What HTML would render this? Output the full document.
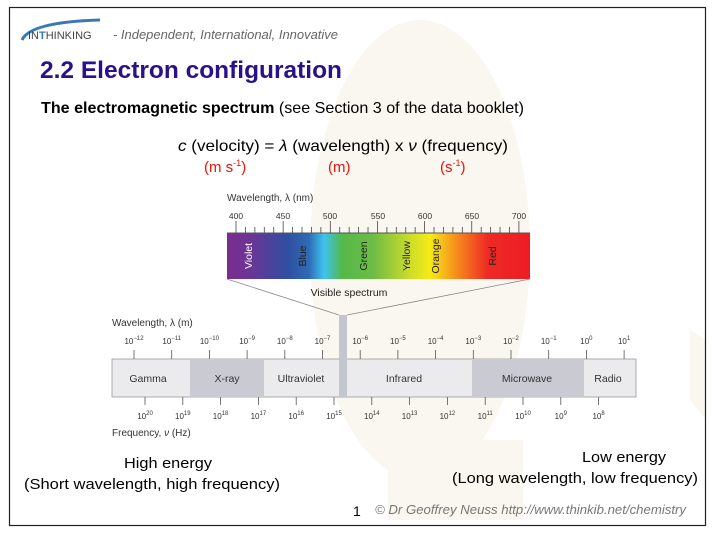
<!DOCTYPE html>
<html><head><meta charset="utf-8"><style>
html,body{margin:0;padding:0;background:#fff;}
body{width:716px;height:536px;position:relative;overflow:hidden;font-family:"Liberation Sans",sans-serif;}
svg{position:absolute;left:0;top:0;}
</style></head><body>
<svg width="716" height="536" viewBox="0 0 716 536" font-family="Liberation Sans, sans-serif">
<defs>
<linearGradient id="vis" x1="227" x2="530" y1="0" y2="0" gradientUnits="userSpaceOnUse">
<stop offset="0" stop-color="#7a2d8f"/>
<stop offset="0.08" stop-color="#6a3596"/>
<stop offset="0.2" stop-color="#2f4fa1"/>
<stop offset="0.27" stop-color="#2f6bb5"/>
<stop offset="0.32" stop-color="#3ec3ef"/>
<stop offset="0.38" stop-color="#55b84a"/>
<stop offset="0.48" stop-color="#6dbb45"/>
<stop offset="0.6" stop-color="#c9dc2c"/>
<stop offset="0.67" stop-color="#f6eb16"/>
<stop offset="0.75" stop-color="#f7941d"/>
<stop offset="0.86" stop-color="#ee2a24"/>
<stop offset="1" stop-color="#ed1c24"/>
</linearGradient>
</defs>
<ellipse cx="420" cy="250" rx="110" ry="230" fill="#faf7f0"/>
<rect x="388" y="440" width="135" height="80" fill="#faf7f0"/>
<polygon points="690,330 706,340 706,420 690,400" fill="#faf7f0"/>
<rect x="9.5" y="7.5" width="696" height="518" fill="none" stroke="#222" stroke-width="1.2"/>
<path d="M22,40 Q30,22 100,20" fill="none" stroke="#3a78b5" stroke-width="3"/>
<text x="28" y="39" font-size="11" fill="#444">IN<tspan font-weight="bold" fill="#3a78b5">T</tspan>HINKING</text>
<text x="113" y="39" font-size="13" font-style="italic" fill="#666" textLength="225" lengthAdjust="spacingAndGlyphs">- Independent, International, Innovative</text>
<text x="40" y="78" font-size="24" font-weight="bold" fill="#2a118a" textLength="302" lengthAdjust="spacingAndGlyphs">2.2 Electron configuration</text>
<text x="41" y="113" font-size="16" fill="#000" textLength="483" lengthAdjust="spacingAndGlyphs"><tspan font-weight="bold">The electromagnetic spectrum</tspan> (see Section 3 of the data booklet)</text>
<text x="178" y="151" font-size="16" fill="#000" textLength="330" lengthAdjust="spacingAndGlyphs"><tspan font-style="italic">c</tspan> (velocity) =  <tspan font-style="italic">λ</tspan> (wavelength) x  <tspan font-style="italic">ν</tspan> (frequency)</text>
<text x="204" y="172" font-size="15" fill="#e8120c">(m s<tspan font-size="9" dy="-6">-1</tspan><tspan dy="6">)</tspan></text>
<text x="328" y="172" font-size="15" fill="#e8120c">(m)</text>
<text x="440" y="172" font-size="15" fill="#e8120c">(s<tspan font-size="9" dy="-6">-1</tspan><tspan dy="6">)</tspan></text>

<text x="227" y="201" font-size="10" fill="#333">Wavelength, λ (nm)</text>
<g font-size="8.5" fill="#333" text-anchor="middle">
<text x="236" y="219">400</text><text x="283" y="219">450</text><text x="330" y="219">500</text><text x="378" y="219">550</text><text x="425" y="219">600</text><text x="472" y="219">650</text><text x="519" y="219">700</text>
</g>
<g stroke="#444" stroke-width="0.8" id="nmticks"></g>
<rect x="227" y="233" width="303" height="46" fill="url(#vis)"/>
<line x1="227" y1="233" x2="530" y2="233" stroke="#555" stroke-width="1"/>
<g font-size="10.5" text-anchor="middle">
<text transform="translate(252,256) rotate(-90)" fill="#fff">Violet</text>
<text transform="translate(306,256) rotate(-90)" fill="#222">Blue</text>
<text transform="translate(367,256) rotate(-90)" fill="#222">Green</text>
<text transform="translate(410,256) rotate(-90)" fill="#222">Yellow</text>
<text transform="translate(439,256) rotate(-90)" fill="#222">Orange</text>
<text transform="translate(496,256) rotate(-90)" fill="#222">Red</text>
</g>
<text x="349" y="296" font-size="10.5" fill="#222" text-anchor="middle">Visible spectrum</text>
<line x1="227" y1="279" x2="339" y2="315" stroke="#888" stroke-width="0.8"/>
<line x1="530" y1="279" x2="347" y2="315" stroke="#888" stroke-width="0.8"/>

<text x="112" y="326" font-size="10" fill="#333">Wavelength, λ (m)</text>
<rect x="112" y="359" width="524" height="38" fill="#ebebee" stroke="#999" stroke-width="0.8"/>
<rect x="190" y="359" width="74" height="38" fill="#c9cad2"/>
<rect x="472" y="359" width="112" height="38" fill="#c9cad2"/>
<rect x="339" y="315" width="8" height="82" fill="#c4c6cf"/>
<g font-size="10.5" fill="#333" text-anchor="middle">
<text x="148" y="382">Gamma</text><text x="227" y="382">X-ray</text><text x="301" y="382">Ultraviolet</text>
<text x="404" y="382">Infrared</text><text x="527" y="382">Microwave</text><text x="608" y="382">Radio</text>
</g>
<g font-size="8" fill="#333" text-anchor="middle" id="toplab"></g>
<g stroke="#555" stroke-width="0.8" id="topt"></g>
<g font-size="8" fill="#333" text-anchor="middle" id="botlab"></g>
<g stroke="#555" stroke-width="0.8" id="bott"></g>
<text x="112" y="436" font-size="10" fill="#333">Frequency, <tspan font-style="italic">ν</tspan> (Hz)</text>

<text x="124" y="468" font-size="15" fill="#000" textLength="88" lengthAdjust="spacingAndGlyphs">High energy</text>
<text x="24" y="489" font-size="15" fill="#000" textLength="256" lengthAdjust="spacingAndGlyphs">(Short wavelength, high frequency)</text>
<text x="582" y="462" font-size="15" fill="#000" textLength="84" lengthAdjust="spacingAndGlyphs">Low energy</text>
<text x="452" y="483" font-size="15" fill="#000" textLength="246" lengthAdjust="spacingAndGlyphs">(Long wavelength, low frequency)</text>
<text x="353" y="516" font-size="14" fill="#000">1</text>
<text x="375" y="514" font-size="13" font-style="italic" fill="#777" textLength="311" lengthAdjust="spacingAndGlyphs">© Dr Geoffrey Neuss http://www.thinkib.net/chemistry</text>
</svg>
<script>
(function(){
var NS="http://www.w3.org/2000/svg";
function el(p,t,a,txt){var e=document.createElementNS(NS,t);for(var k in a)e.setAttribute(k,a[k]);if(txt!==undefined)e.innerHTML=txt;document.getElementById(p).appendChild(e);}
for(var i=0;i<=31;i++){var x=236+9.43*(i-1); if(x<227||x>530)continue; el("nmticks","line",{x1:x,y1:((i-1)%5==0?221:227),x2:x,y2:233});}
var pw=[-12,-11,-10,-9,-8,-7,-6,-5,-4,-3,-2,-1,0,1];
pw.forEach(function(p,i){var x=134+37.7*i;el("topt","line",{x1:x,y1:350,x2:x,y2:359});
var s=(p<0?"−"+(-p):""+p);el("toplab","text",{x:x,y:344},"10<tspan font-size='6' dy='-4'>"+s+"</tspan>");});
for(var j=0;j<13;j++){var q=20-j,xx=145+37.8*j;el("bott","line",{x1:xx,y1:397,x2:xx,y2:405});
el("botlab","text",{x:xx,y:419},"10<tspan font-size='6' dy='-4'>"+q+"</tspan>");}
})();
</script>
</body></html>
